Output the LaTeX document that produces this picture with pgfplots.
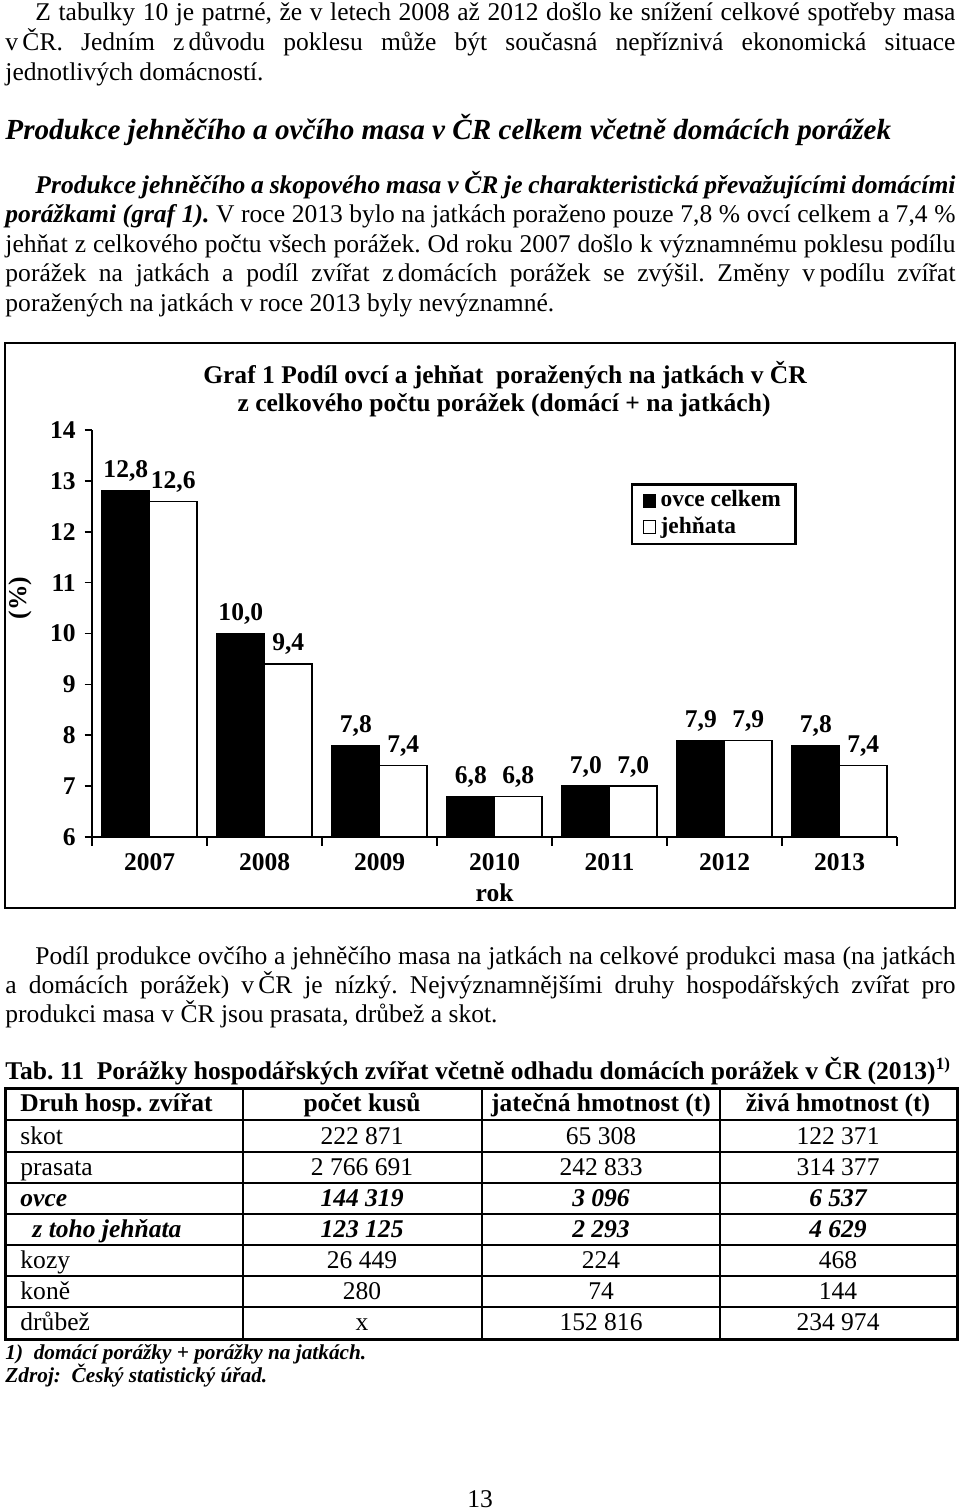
\documentclass[12pt,border=0pt]{standalone}
\usepackage{fontspec}
\setmainfont{Liberation Serif}
\usepackage{pgfplots}
\pgfplotsset{compat=1.18}
\newdimen\px \px=0.47pt
% justified line from x=#1 to the right margin
\newcommand{\jl}[3]{\node[anchor=base west,inner sep=0pt] at (#1,#2) {\hbox to \dimexpr 955\px-#1\px\relax{#3}};}
% plain line
\newcommand{\pl}[3]{\node[anchor=base west,inner sep=0pt] at (#1,#2) {#3};}
\newcommand{\bi}{\bfseries\itshape}

\begin{document}
\frenchspacing
\begin{tikzpicture}[x=0.47pt,y=-0.47pt]
\path (0,0) rectangle (960,1511);

% paragraph 1
\jl{35}{20}{Z tabulky 10 je patrné, že v letech 2008 až 2012 došlo ke snížení celkové spotřeby masa}
\jl{5}{50}{v\,ČR. Jedním z\,důvodu poklesu může být současná nepříznivá ekonomická situace}
\pl{5}{80}{jednotlivých domácností.}

% heading
\pl{5}{139}{\fontsize{13.7}{16}\selectfont\bi Produkce jehněčího a ovčího masa v ČR celkem včetně domácích porážek}

% paragraph 2
\jl{35}{193}{\bi Produkce jehněčího a skopového masa v ČR je charakteristická převažujícími domácími}
\jl{5}{222}{{\bi porážkami (graf 1).} V roce 2013 bylo na jatkách poraženo pouze 7,8 \% ovcí celkem a 7,4 \%}
\jl{5}{252}{jehňat z celkového počtu všech porážek. Od roku 2007 došlo k významnému poklesu podílu}
\jl{5}{281}{porážek na jatkách a podíl zvířat z\,domácích porážek se zvýšil. Změny v\,podílu zvířat}
\pl{5}{311}{poražených na jatkách v roce 2013 byly nevýznamné.}

% chart frame and title
\draw[line width=0.8pt] (5,343) rectangle (955,908);
\node[anchor=base,inner sep=0pt,font=\bfseries] at (505,383) {Graf 1 Podíl ovcí a jehňat\ \ poražených na jatkách v ČR};
\node[anchor=base,inner sep=0pt,font=\bfseries] at (504,411) {z celkového počtu porážek (domácí + na jatkách)};

\coordinate (ax) at (92,837);
\begin{axis}[
  at={(ax)}, anchor=south west,
  scale only axis, width=378.35pt, height=191.3pt,
  xmin=-0.5, xmax=6.5, ymin=6, ymax=14,
  ybar=0pt, bar width=22.3pt,
  axis lines=left, axis line style={-, line width=0.8pt},
  tick align=outside,
  ytick={6,...,14},
  xtick={0,...,6},
  xticklabels={2007,2008,2009,2010,2011,2012,2013},
  major x tick style={draw=none},
  minor xtick={-0.5,0.5,...,6.5},
  major tick length=3.5pt, minor tick length=4pt,
  tick style={black, line width=0.8pt},
  tick label style={font=\bfseries},
  /pgf/number format/assume math mode=true,
  xlabel={rok}, ylabel={(\%)},
  label style={font=\bfseries},
  xlabel style={at={(axis description cs:0.5,-0.1376)}, anchor=center},
  ylabel style={at={(axis description cs:-0.0894,0.587)}, anchor=center},
  nodes near coords={\pgfmathprintnumber[fixed,fixed zerofill,precision=1,use comma]{\pgfplotspointmeta}},
  nodes near coords style={font=\bfseries},
  legend style={at={(0.669,0.8698)}, anchor=north west, draw=black, line width=1.2pt,
    font=\fontsize{11}{13}\selectfont\bfseries, inner xsep=5pt, inner ysep=1.5pt, row sep=0pt,
    nodes={inner ysep=1.5pt},
    /tikz/every even column/.append style={column sep=1pt}},
  legend cell align=left,
]
\addplot[fill=black, draw=black, line width=0.6pt,
  legend image code/.code={\draw[fill=black,draw=black,line width=0.5pt] (0pt,-3pt) rectangle (6pt,3pt);}]
  coordinates {(0,12.8) (1,10.0) (2,7.8) (3,6.8) (4,7.0) (5,7.9) (6,7.8)};
\addlegendentry{ovce celkem}
\addplot[fill=white, draw=black, line width=0.6pt,
  legend image code/.code={\draw[fill=white,draw=black,line width=0.5pt] (0pt,-3pt) rectangle (6pt,3pt);}]
  coordinates {(0,12.6) (1,9.4) (2,7.4) (3,6.8) (4,7.0) (5,7.9) (6,7.4)};
\addlegendentry{jehňata}
\end{axis}

% paragraph 3
\jl{35}{964}{Podíl produkce ovčího a jehněčího masa na jatkách na celkové produkci masa (na jatkách}
\jl{5}{993}{a domácích porážek) v\,ČR je nízký. Nejvýznamnějšími druhy hospodářských zvířat pro}
\pl{5}{1022}{produkci masa v ČR jsou prasata, drůbež a skot.}

% table caption
\pl{5}{1079}{\bfseries Tab. 11\ \ Porážky hospodářských zvířat včetně odhadu domácích porážek v ČR (2013)\textsuperscript{1)}}

% table
\foreach \yy in {1152,1183,1214,1245,1276,1307} \draw[line width=0.5pt] (5,\yy) -- (957,\yy);
\draw[line width=1.2pt] (5,1120) -- (957,1120);
\foreach \xx in {243,482,720} \draw[line width=1pt] (\xx,1088) -- (\xx,1339);
\draw[line width=1.4pt] (5,1088) rectangle (957,1339);

\pl{20}{1111}{\bfseries Druh hosp. zvířat}
\node[anchor=base,inner sep=0pt,font=\bfseries] at (362,1111) {počet kusů};
\node[anchor=base,inner sep=0pt,font=\bfseries] at (601,1111) {jatečná hmotnost (t)};
\node[anchor=base,inner sep=0pt,font=\bfseries] at (838,1111) {živá hmotnost (t)};

\newcommand{\tval}[5]{%
  \node[anchor=base,inner sep=0pt,font=#5] at (362,#1) {#2};
  \node[anchor=base,inner sep=0pt,font=#5] at (601,#1) {#3};
  \node[anchor=base,inner sep=0pt,font=#5] at (838,#1) {#4};
}
\pl{20}{1144}{skot}            \tval{1144}{222 871}{65 308}{122 371}{}
\pl{20}{1175}{prasata}         \tval{1175}{2 766 691}{242 833}{314 377}{}
\pl{20}{1206}{\bi ovce}        \tval{1206}{144 319}{3 096}{6 537}{\bi}
\pl{32}{1237}{\bi z toho jehňata} \tval{1237}{123 125}{2 293}{4 629}{\bi}
\pl{20}{1268}{kozy}            \tval{1268}{26 449}{224}{468}{}
\pl{20}{1299}{koně}            \tval{1299}{280}{74}{144}{}
\pl{20}{1330}{drůbež}          \tval{1330}{x}{152 816}{234 974}{}

% notes
\pl{5}{1359}{\fontsize{10}{12}\selectfont\bi 1)\ \ domácí porážky + porážky na jatkách.}
\pl{5}{1382}{\fontsize{10}{12}\selectfont\bi Zdroj:\ \ Český statistický úřad.}

\node[anchor=base,inner sep=0pt] at (480,1507) {13};
\end{tikzpicture}
\end{document}
